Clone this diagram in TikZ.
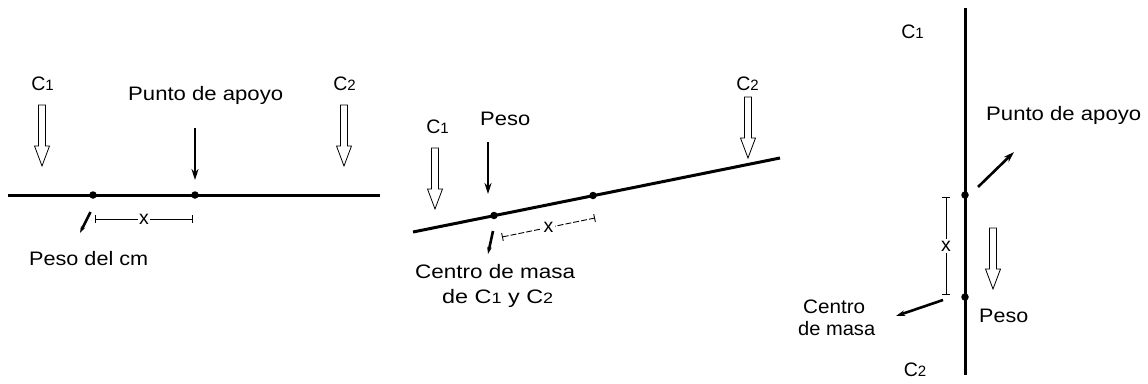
\documentclass[tikz,border=0pt]{standalone}
\usepackage{fontspec}
\setmainfont{Liberation Sans}
\usetikzlibrary{arrows.meta}
\newcommand\lowsub[1]{{\fontsize{15}{15}\selectfont #1}}
\newcommand\fitw[2]{\resizebox{#1pt}{\height}{#2}}
\tikzset{
  beam/.style={line width=3pt},
  pt/.style={circle, fill, inner sep=0pt, minimum size=7.5pt},
  lbl/.style={font=\fontsize{19.5}{22}\selectfont, inner sep=0pt},
  force/.style={line width=2.6pt, -{Stealth[length=11pt,width=7pt]}},
  small force/.style={line width=2.6pt, -{Stealth[length=7pt,width=4.5pt]}},
  dimline/.style={line width=0.9pt, {Bar[width=8pt]}-{Bar[width=8pt]}},
  dimlbl/.style={fill=white, inner sep=1.5pt, font=\fontsize{19.5}{20}\selectfont},
  hollow/.pic={\draw[line width=0.8pt, fill=white] (-3.5,0) -- (3.5,0) -- (3.5,41) -- (7.5,41) -- (0,61) -- (-7.5,41) -- (-3.5,41) -- cycle;}
}
\begin{document}
\begin{tikzpicture}[x=1pt,y=-1pt]
\useasboundingbox (0,0) rectangle (1148,383);
% ---------- Panel 1 ----------
\coordinate (b1l) at (8,195);
\coordinate (b1r) at (380,195);
\draw[beam] (b1l) -- (b1r);
\node[pt] (cm1) at (93,195) {};
\node[pt] (ap1) at (195,195) {};
\node[lbl, anchor=base] (c1a) at (42.5,90) {C\lowsub{1}};
\node[lbl, anchor=base] (c2a) at (344.5,90) {C\lowsub{2}};
\pic at (42,105) {hollow};
\pic at (344,105) {hollow};
\node[lbl, anchor=base west] (pa1) at (128,100) {\fitw{155}{Punto de apoyo}};
\coordinate (f1s) at (195,128);
\coordinate (f1e) at (195,180);
\draw[force] (f1s) -- (f1e);
\coordinate (w1s) at (90.5,212);
\coordinate (w1e) at (80,233);
\draw[small force] (w1s) -- (w1e);
\coordinate (x1a) at (95,219);
\coordinate (x1b) at (193,219);
\draw[dimline] (x1a) -- node[dimlbl] {x} (x1b);
\node[lbl, anchor=base west] (pcm) at (29,265) {\fitw{119}{Peso del cm}};
% ---------- Panel 2 ----------
\coordinate (b2l) at (413,232);
\coordinate (b2r) at (780,158);
\draw[beam] (b2l) -- (b2r);
\node[pt] (cm2) at (494,215.5) {};
\node[pt] (ap2) at (593,195.5) {};
\node[lbl, anchor=base] (c1b) at (437.5,133) {C\lowsub{1}};
\pic at (435,148) {hollow};
\node[lbl, anchor=base west] (peso2) at (480,125) {\fitw{50}{Peso}};
\coordinate (f2s) at (488,142);
\coordinate (f2e) at (488,194);
\draw[force] (f2s) -- (f2e);
\node[lbl, anchor=base] (c2b) at (747.5,90) {C\lowsub{2}};
\pic at (748,97) {hollow};
\coordinate (w2s) at (493,231);
\coordinate (w2e) at (488,254);
\draw[small force] (w2s) -- (w2e);
\coordinate (x2a) at (502,237);
\coordinate (x2b) at (595,218);
\draw[dimline, dash pattern=on 6pt off 2pt] (x2a) -- node[dimlbl] {x} (x2b);
\node[lbl, anchor=base west] (cm2t) at (415,278) {\fitw{160}{Centro de masa}};
\node[lbl, anchor=base west] (cm2u) at (442,303) {\fitw{111}{de C\lowsub{1} y C\lowsub{2}}};
% ---------- Panel 3 ----------
\coordinate (b3t) at (965,8);
\coordinate (b3b) at (965,375);
\draw[beam] (b3t) -- (b3b);
\node[pt] (ap3) at (965,195) {};
\node[pt] (cm3) at (965,297) {};
\node[lbl, anchor=base] (c1c) at (912.5,38) {C\lowsub{1}};
\node[lbl, anchor=base] (c2c) at (915,376) {C\lowsub{2}};
\node[lbl, anchor=base west] (pa3) at (986,120) {\fitw{155}{Punto de apoyo}};
\coordinate (f3s) at (978,187);
\coordinate (f3e) at (1014,152);
\draw[force] (f3s) -- (f3e);
\pic at (993,228) {hollow};
\node[lbl, anchor=base west] (peso3) at (979,322) {\fitw{49}{Peso}};
\coordinate (x3a) at (946,197);
\coordinate (x3b) at (946,295);
\draw[dimline] (x3a) -- node[dimlbl] {x} (x3b);
\coordinate (w3s) at (943,300);
\coordinate (w3e) at (896,316);
\draw[small force, -{Stealth[length=9pt,width=5.5pt]}] (w3s) -- (w3e);
\node[lbl, anchor=base west] (cm3t) at (803,313) {\fitw{62}{Centro}};
\node[lbl, anchor=base west] (cm3u) at (798,335) {\fitw{77}{de masa}};
\end{tikzpicture}
\end{document}
